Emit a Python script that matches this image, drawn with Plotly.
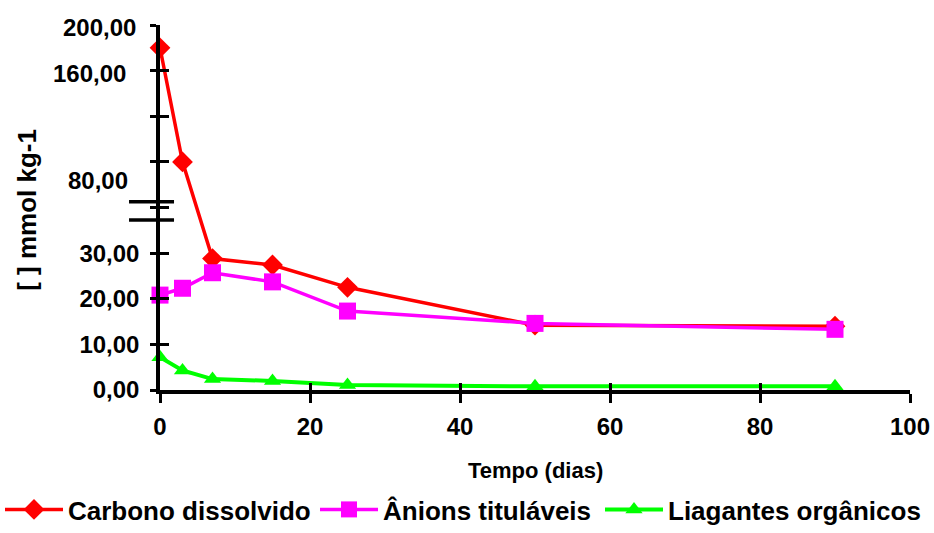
import plotly.graph_objects as go

# ---- data ----
dias = [0, 3, 7, 15, 25, 50, 90]
carbono = [180.0, 80.0, 28.8, 27.4, 22.5, 14.2, 14.0]
anions = [20.8, 22.3, 25.7, 23.7, 17.3, 14.6, 13.3]
ligantes = [7.2, 4.3, 2.4, 2.0, 1.1, 0.8, 0.8]

x_ticks = [0, 20, 40, 60, 80, 100]
y_ticks = [0, 10, 20, 30, 40, 80, 120, 160, 200]
y_low_labels = [0, 10, 20, 30]
y_high_labels = [80, 160, 200]

# broken axis: values up to 40 drawn 1:1, above that compressed by 4
BREAK = 40.0
def disp(v):
    return v if v <= BREAK else 30 + v / 4.0

FONT = "Liberation Sans, Arial, sans-serif"
W, H = 934, 533
fig = go.Figure()

series = [
    ("Carbono dissolvido", carbono, "#FF0000", "diamond", 16, 3.5, "legend", 0),
    ("Ânions tituláveis", anions, "#FF00FF", "square", 17, 3.5, "legend2", 315),
    ("Liagantes orgânicos", ligantes, "#00FF00", "triangle-up", 15, 4, "legend3", 600),
]
legfont = dict(family=FONT, size=26, color="black", weight="bold")
legends = {}
for name, vals, col, sym, sz, lw, leg, lx in series:
    fig.add_trace(go.Scatter(
        x=dias, y=[disp(v) for v in vals], name=name, mode="lines+markers",
        line=dict(color=col, width=lw), legend=leg, cliponaxis=False,
        marker=dict(symbol=sym, size=sz, color=col, line=dict(width=0)),
    ))
    legends[leg] = dict(orientation="h", xref="container", yref="container",
                        x=lx / W, y=0, xanchor="left", yanchor="bottom",
                        itemwidth=58, font=legfont, bgcolor="rgba(0,0,0,0)")
# helper trace so the overlay axes (inner ticks) get drawn
fig.add_trace(go.Scatter(x=[None], y=[None], xaxis="x2", yaxis="y2", showlegend=False))

yvals = [disp(v) for v in y_ticks]
ytext = [("%d,00" % v) if v in y_low_labels else "" for v in y_ticks]
tickfont = dict(family=FONT, size=24, color="black", weight="bold")

fig.update_layout(
    width=W, height=H,
    margin=dict(l=160, r=24, t=25, b=143),
    paper_bgcolor="white", plot_bgcolor="white",
    showlegend=True,
    xaxis=dict(range=[0, 100], tickvals=x_ticks, ticks="outside", ticklen=9, tickwidth=3,
               tickcolor="black", showline=True, linecolor="black", linewidth=3.5,
               showgrid=False, zeroline=False, tickfont=tickfont, ticklabelstandoff=3,
               automargin=False),
    yaxis=dict(range=[0, 80], tickvals=yvals, ticktext=ytext, ticks="outside", ticklen=6, tickwidth=3,
               tickcolor="black", showline=True, linecolor="black", linewidth=3.5,
               showgrid=False, zeroline=False, tickfont=tickfont, ticklabelstandoff=6,
               automargin=False),
    xaxis2=dict(range=[0, 100], overlaying="x", anchor="y2", tickvals=x_ticks, ticks="inside",
                ticklen=7, tickwidth=3, tickcolor="black", showticklabels=False, showline=False,
                showgrid=False, zeroline=False, automargin=False),
    yaxis2=dict(range=[0, 80], overlaying="y", anchor="x2", tickvals=yvals, ticks="inside",
                ticklen=9, tickwidth=3, tickcolor="black", showticklabels=False, showline=False,
                showgrid=False, zeroline=False, automargin=False),
    **legends,
)

# fake labels of the compressed upper part (as in the original)
upper_pos = {200: (-0.029, 79.4), 160: (-0.043, 69.3), 80: (-0.040, 46.0)}
for v in y_high_labels:
    xp, yp = upper_pos[v]
    fig.add_annotation(x=xp, y=yp, xref="paper", yref="y", text="%d,00" % v, showarrow=False,
                       xanchor="right", yanchor="middle", font=tickfont)

# axis titles
fig.add_annotation(x=-0.1767, y=0.495, xref="paper", yref="paper", text="[ ] mmol kg-1",
                   textangle=-90, showarrow=False, xanchor="center", yanchor="middle",
                   font=dict(family=FONT, size=26, color="black", weight="bold"))
fig.add_annotation(x=0.5, y=-0.22, xref="paper", yref="paper", text="Tempo (dias)",
                   showarrow=False, xanchor="center", yanchor="middle",
                   font=dict(family=FONT, size=22, color="black", weight="bold"))

# break marks
for yb in (41.27, 37.26):
    fig.add_shape(type="line", xref="paper", yref="y", x0=-0.0413, x1=0.0187, y0=yb, y1=yb,
                  line=dict(color="black", width=3.5))

fig.write_html("out.html")
